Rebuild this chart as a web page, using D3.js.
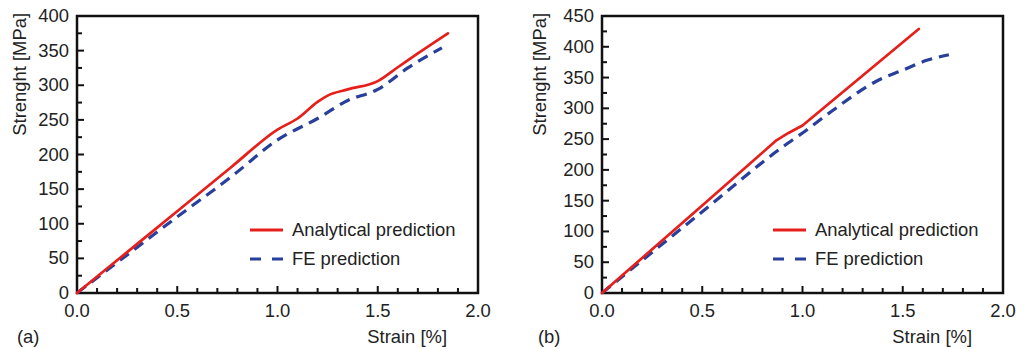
<!DOCTYPE html>
<html><head><meta charset="utf-8">
<script src="https://cdn.jsdelivr.net/npm/d3@7"></script>
<style>
body{margin:0;background:#fff;}
svg text{font-family:"Liberation Sans",Arial,sans-serif;fill:#222;}
</style></head>
<body><svg id="c" width="1016" height="349"></svg>
<script>
// Panel (a)
const aStrainAnalytical = [0, 0.25, 0.5, 0.77, 1.0, 1.1, 1.2, 1.25, 1.35, 1.5, 1.6, 1.7, 1.85];
const aAnalytical       = [0, 59, 118, 182, 236, 252, 276, 285, 294, 306, 326, 346, 375];
const aStrainFE         = [0, 0.25, 0.5, 0.77, 1.0, 1.2, 1.35, 1.5, 1.65, 1.82];
const aFE               = [0, 55, 110, 168, 221, 252, 278, 294, 325, 354];
// Panel (b)
const bStrainAnalytical = [0, 0.5, 0.87, 0.93, 1.0, 1.58];
const bAnalytical       = [0, 142, 248, 260, 272, 429];
const bStrainFE         = [0, 0.5, 0.9, 1.0, 1.14, 1.38, 1.5, 1.62, 1.73];
const bFE               = [0, 132, 237, 260, 294, 346, 362, 378, 387];

const xTicks = [0, 0.5, 1.0, 1.5, 2.0];
const aYTicks = [0, 50, 100, 150, 200, 250, 300, 350, 400];
const bYTicks = [0, 50, 100, 150, 200, 250, 300, 350, 400, 450];
const seriesNames = ["Analytical prediction", "FE prediction"];
const panelLabels = ["(a)", "(b)"];
const xTitle = "Strain [%]";
const yTitle = "Strenght [MPa]";

const RED = "#e61f1b", BLUE = "#283f9b";
const svg = d3.select("#c");
const FS = 18.4;

function panel(cfg) {
  const {x0, x1, y0, y1, ymax, yTicks, ana, fe, label, labelX, legX, anaCurve} = cfg;
  const g = svg.append("g");
  const x = d3.scaleLinear().domain([0, 2]).range([x0, x1]);
  const y = d3.scaleLinear().domain([0, ymax]).range([y1, y0]);

  const xMinor = d3.range(0, 2.0001, 0.1).map(v => +v.toFixed(1));
  g.selectAll(".xt").data(xMinor).join("line")
    .attr("x1", d => x(d)).attr("x2", d => x(d))
    .attr("y1", y1).attr("y2", d => y1 - (Math.abs(d*2 - Math.round(d*2)) < 1e-6 ? 7 : 5))
    .attr("stroke", "#111").attr("stroke-width", 2);
  const yMinor = d3.range(0, ymax + 0.1, 25);
  g.selectAll(".yt").data(yMinor).join("line")
    .attr("y1", d => y(d)).attr("y2", d => y(d))
    .attr("x1", x0).attr("x2", d => x0 + (d % 50 === 0 ? 7 : 5))
    .attr("stroke", "#111").attr("stroke-width", 2);

  g.append("rect").attr("x", x0).attr("y", y0).attr("width", x1 - x0).attr("height", y1 - y0)
    .attr("fill", "none").attr("stroke", "#111").attr("stroke-width", 2.5);

  g.selectAll(".xl").data(xTicks).join("text")
    .attr("x", d => x(d)).attr("y", y1 + 24)
    .attr("text-anchor", "middle").attr("font-size", FS)
    .text(d => d.toFixed(1));
  g.selectAll(".yl").data(yTicks).join("text")
    .attr("x", x0 - 8).attr("y", d => y(d) + 6)
    .attr("text-anchor", "end").attr("font-size", FS)
    .text(d => d);

  g.append("text").attr("x", x1 - 31).attr("y", 343).attr("text-anchor", "end")
    .attr("font-size", FS).text(xTitle);
  g.append("text").attr("transform", `translate(${labelX},13) rotate(-90)`)
    .attr("text-anchor", "end").attr("dy", "0.35em").attr("font-size", FS).text(yTitle);
  g.append("text").attr("x", cfg.panelX).attr("y", 343).attr("font-size", FS).text(label);

  const feLine = d3.line().x(d => x(d[0])).y(d => y(d[1])).curve(d3.curveMonotoneX);
  const anaLine = d3.line().x(d => x(d[0])).y(d => y(d[1])).curve(anaCurve);
  const feData = fe[0].map((v, i) => [v, fe[1][i]]);
  const anaData = ana[0].map((v, i) => [v, ana[1][i]]);
  g.append("path").attr("d", feLine(feData)).attr("fill", "none")
    .attr("stroke", BLUE).attr("stroke-width", 3.2).attr("stroke-dasharray", "11,7");
  g.append("path").attr("d", anaLine(anaData)).attr("fill", "none")
    .attr("stroke", RED).attr("stroke-width", 2.7).attr("stroke-linecap", "round")
    .attr("stroke-linejoin", "round");

  const lg = g.append("g");
  lg.append("line").attr("x1", legX).attr("x2", legX + 33).attr("y1", 230).attr("y2", 230)
    .attr("stroke", RED).attr("stroke-width", 3);
  lg.append("line").attr("x1", legX).attr("x2", legX + 33).attr("y1", 259).attr("y2", 259)
    .attr("stroke", BLUE).attr("stroke-width", 3.2).attr("stroke-dasharray", "11,11");
  lg.append("text").attr("x", legX + 42).attr("y", 236).attr("font-size", FS).text(seriesNames[0]);
  lg.append("text").attr("x", legX + 42).attr("y", 265).attr("font-size", FS).text(seriesNames[1]);
}

panel({x0: 77, x1: 478, y0: 16, y1: 293, ymax: 400, yTicks: aYTicks,
  ana: [aStrainAnalytical, aAnalytical], fe: [aStrainFE, aFE], anaCurve: d3.curveMonotoneX,
  label: panelLabels[0], labelX: 20, panelX: 17, legX: 250});
panel({x0: 602, x1: 1003, y0: 16, y1: 293, ymax: 450, yTicks: bYTicks,
  ana: [bStrainAnalytical, bAnalytical], fe: [bStrainFE, bFE], anaCurve: d3.curveLinear,
  label: panelLabels[1], labelX: 540, panelX: 538, legX: 773});
</script></body></html>
